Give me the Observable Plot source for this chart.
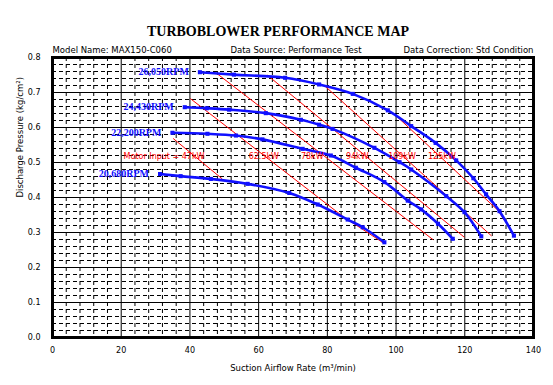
<!DOCTYPE html>
<html>
<head>
<meta charset="utf-8">
<script src="https://cdn.jsdelivr.net/npm/d3@7"></script>
<script src="https://cdn.jsdelivr.net/npm/@observablehq/plot@0.6"></script>
<style>
  html, body { margin: 0; padding: 0; background: #fff; }
</style>
</head>
<body>
<div id="chart"></div>
<script>
// ---- Data ----
const xTicks = [0, 20, 40, 60, 80, 100, 120, 140];
const yTicks = [0, 0.1, 0.2, 0.3, 0.4, 0.5, 0.6, 0.7, 0.8];

const rpmLabels = ["26,050RPM", "24,430RPM", "22,200RPM", "20,680RPM"];

const rpm26050X = [42.9, 52.8, 67.7, 77.6, 87.4, 97.6, 104.4, 111.5, 117.5, 122.5, 126.2, 130.1, 134.3];
const rpm26050Y = [0.758, 0.751, 0.742, 0.723, 0.696, 0.649, 0.604, 0.556, 0.506, 0.455, 0.409, 0.361, 0.291];

const rpm24430X = [38.5, 44.9, 51.4, 62.1, 72.3, 77.6, 81.5, 93.7, 101.0, 104.4, 114.6, 119.9, 124.8];
const rpm24430Y = [0.658, 0.655, 0.651, 0.641, 0.622, 0.608, 0.596, 0.542, 0.501, 0.480, 0.404, 0.358, 0.289];

const rpm22200X = [34.9, 45.1, 53.4, 61.1, 72.8, 81.0, 88.3, 96.6, 103.4, 107.3, 112.2, 116.5];
const rpm22200Y = [0.585, 0.582, 0.577, 0.566, 0.539, 0.520, 0.485, 0.444, 0.391, 0.366, 0.325, 0.282];

const rpm20680X = [31.3, 37.3, 46.1, 56.8, 68.9, 77.2, 85.9, 90.3, 96.6];
const rpm20680Y = [0.467, 0.461, 0.453, 0.439, 0.413, 0.380, 0.337, 0.315, 0.272];

const powerLabels = ["Motor Input = 47kW", "62.5kW", "78kW", "94kW", "109kW", "125kW"];
const powerLabelX = [20.7, 57.1, 72.3, 85.4, 97.7, 109.3];
const powerLabelY = 0.517;

const p47X = [35.2, 49.3];
const p47Y = [0.568, 0.454];
const p62X = [40.2, 84.5, 96.2];
const p62Y = [0.682, 0.346, 0.271];
const p78X = [48.0, 110.7];
const p78Y = [0.753, 0.280];
const p94X = [62.6, 119.8];
const p94Y = [0.749, 0.287];
const p109X = [79.1, 127.7];
const p109Y = [0.720, 0.291];
const p125X = [100.5, 129.7, 131.5];
const p125Y = [0.629, 0.363, 0.335];

const title = "TURBOBLOWER PERFORMANCE MAP";
const subLeft = "Model Name: MAX150-C060";
const subMid = "Data Source: Performance Test";
const subRight = "Data Correction: Std Condition";
const xLabel = "Suction Airflow Rate (m³/min)";
const yLabel = "Discharge Pressure (kg/cm²)";

// ---- Build tables ----
const toPts = (xs, ys, name) => xs.map((x, i) => ({x, y: ys[i], name}));
const curves = [
  toPts(rpm26050X, rpm26050Y, rpmLabels[0]),
  toPts(rpm24430X, rpm24430Y, rpmLabels[1]),
  toPts(rpm22200X, rpm22200Y, rpmLabels[2]),
  toPts(rpm20680X, rpm20680Y, rpmLabels[3])
];
const powers = [
  toPts(p47X, p47Y), toPts(p62X, p62Y), toPts(p78X, p78Y),
  toPts(p94X, p94Y), toPts(p109X, p109Y), toPts(p125X, p125Y)
];
const minorX = d3.range(0, 141, 4).filter(v => v % 20 !== 0);
const minorY = d3.range(1, 40).filter(i => i % 5 !== 0).map(i => i * 0.02);

const BLUE = "#1010ff";
const RED = "#ff0000";

const marks = [
  // minor grid
  Plot.ruleX(minorX, {stroke: "#000", strokeWidth: 1, strokeDasharray: "4,3"}),
  Plot.ruleY(minorY, {stroke: "#000", strokeWidth: 1, strokeDasharray: "4,3"}),
  // major grid
  Plot.ruleX(xTicks, {stroke: "#000", strokeWidth: 1}),
  Plot.ruleY(yTicks, {stroke: "#000", strokeWidth: 1}),
  Plot.frame({stroke: "#000", strokeWidth: 3}),
  Plot.axisX({ticks: xTicks, tickSize: 0, tickPadding: 10, label: null, fontSize: 8}),
  Plot.axisY({ticks: yTicks, tickSize: 0, tickPadding: 12, tickFormat: d3.format(".1f"), label: null, fontSize: 8}),
];
// power lines
for (const p of powers) {
  marks.push(Plot.line(p, {x: "x", y: "y", stroke: RED, strokeWidth: 1}));
}
// rpm curves
for (const c of curves) {
  marks.push(Plot.line(c, {x: "x", y: "y", stroke: BLUE, strokeWidth: 2.6, curve: "catmull-rom"}));
  marks.push(Plot.dot(c, {x: "x", y: "y", symbol: "square", r: 2.3, fill: BLUE, stroke: "none"}));
  marks.push(Plot.text([c[0]], {x: "x", y: "y", text: "name", textAnchor: "end", dx: -11,
    fill: BLUE, fontFamily: "Liberation Serif", fontWeight: "bold", fontSize: 10, style: "letter-spacing:-0.6px"}));
}
// power labels
marks.push(Plot.text(powerLabels.map((t, i) => ({t, x: powerLabelX[i], y: powerLabelY})), {
  x: "x", y: "y", text: "t", textAnchor: "start", fill: RED, fontSize: 8, fontFamily: "DejaVu Sans"
}));
// titles
marks.push(Plot.text([title], {frameAnchor: "top", dy: -31, dx: -15, fontFamily: "Liberation Serif", fontWeight: "bold", fontSize: 14, fill: "#000", style: "letter-spacing:0.6px"}));
marks.push(Plot.text([subLeft], {frameAnchor: "top-left", dy: -11, textAnchor: "start", fontSize: 8.5, fill: "#000"}));
marks.push(Plot.text([subMid], {frameAnchor: "top", dy: -11, dx: 3, fontSize: 8.5, fill: "#000"}));
marks.push(Plot.text([subRight], {frameAnchor: "top-right", dy: -11, textAnchor: "end", fontSize: 8.5, fill: "#000"}));
marks.push(Plot.text([xLabel], {frameAnchor: "bottom", dy: 33, fontSize: 8.5, fill: "#000"}));
marks.push(Plot.text([yLabel], {frameAnchor: "left", dx: -32, rotate: -90, fontSize: 8.5, fill: "#000"}));

const chart = Plot.plot({
  width: 553,
  height: 385,
  marginTop: 57,
  marginLeft: 52,
  marginRight: 20,
  marginBottom: 48,
  x: {domain: [0, 140]},
  y: {domain: [0, 0.8]},
  style: {fontFamily: "DejaVu Sans", fontSize: "8px", background: "#fff", color: "#000"},
  marks
});
document.getElementById("chart").append(chart);
</script>
</body>
</html>
